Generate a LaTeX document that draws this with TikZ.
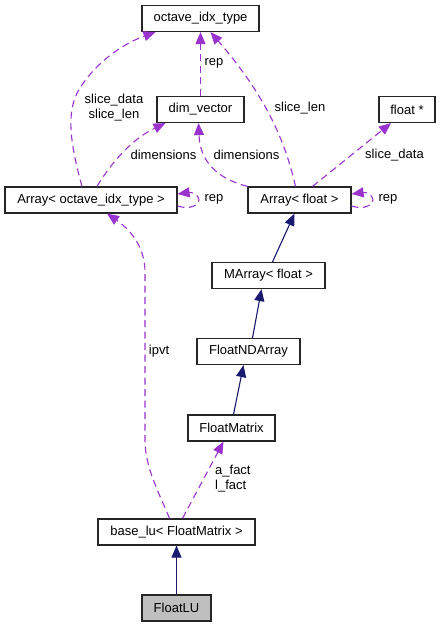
\documentclass[tikz,border=0pt]{standalone}
\usepackage{fontspec}
\setmainfont{Liberation Sans}
\usetikzlibrary{arrows.meta}
\definecolor{dep}{HTML}{9A32CD}
\definecolor{inh}{HTML}{191970}
\definecolor{leaf}{HTML}{BFBFBF}
\tikzset{
  box/.style={draw=black!85, line width=1.2pt, rectangle, minimum height=26pt, inner sep=0pt, anchor=center, font=\fontsize{13}{15}\selectfont},
  lbl/.style={inner sep=0pt, font=\fontsize{13}{15}\selectfont, align=center},
  deparrow/.style={draw=dep, line width=1.1pt, dash pattern=on 7pt off 4.5pt, -{Triangle[length=12pt,width=10pt,fill=dep]}},
  inharrow/.style={draw=inh, line width=1.1pt, -{Triangle[length=12pt,width=10pt,fill=inh]}},
}
\begin{document}
\begin{tikzpicture}[x=1pt,y=-1pt]
\useasboundingbox (0,0) rectangle (441,627);
% nodes
\node[box, minimum width=117pt] (oit) at (200.5,18.5) {octave\_idx\_type};
\node[box, minimum width=87pt] (dv) at (200.5,109.5) {dim\_vector};
\node[box, minimum width=56pt] (fp) at (407,109.5) {float *};
\node[box, minimum width=172pt] (ai) at (91,200) {Array< octave\_idx\_type >};
\node[box, minimum width=103pt] (af) at (299.5,200) {Array< float >};
\node[box, minimum width=113pt] (ma) at (268.5,275.5) {MArray< float >};
\node[box, minimum width=103pt] (fnd) at (248.5,351.5) {FloatNDArray};
\node[box, minimum width=87pt] (fm) at (231.5,428) {FloatMatrix};
\node[box, minimum width=157pt] (bl) at (176.5,532) {base\_lu< FloatMatrix >};
\node[box, minimum width=69pt, fill=leaf] (flu) at (176.5,608) {FloatLU};
% labels
\node[lbl] (l1) at (214,63) {rep};
\node[lbl] (l2) at (114,107.5) {slice\_data\\slice\_len};
\node[lbl] (l3) at (300,108) {slice\_len};
\node[lbl] (l4) at (163.5,155) {dimensions};
\node[lbl] (l5) at (246.5,155) {dimensions};
\node[lbl] (l6) at (394.5,155) {slice\_data};
\node[lbl] (l7) at (214,199) {rep};
\node[lbl] (l8) at (388,199) {rep};
\node[lbl] (l9) at (159,351) {ipvt};
\node[lbl, align=left, anchor=west] (l10) at (215,478.5) {a\_fact\\l\_fact};
% dependency edges
\draw[deparrow] (dv.north) -- (oit.south);
\draw[deparrow] ([xshift=-9pt]ai.north) .. controls (72,150) and (64,112) .. (80,88)
   .. controls (98,60) and (125,43) .. ([xshift=-45pt]oit.south);
\draw[deparrow] ([xshift=6pt]ai.north) .. controls (110,165) and (130,140) .. ([xshift=-35pt]dv.south);
\draw[deparrow] ([xshift=-52pt]af.north) .. controls (215,178) and (200,160) .. ([xshift=-2pt]dv.south);
\draw[deparrow] ([xshift=-4pt]af.north) .. controls (285,140) and (265,95) .. ([xshift=10pt]oit.south);
\draw[deparrow] ([xshift=13pt]af.north) -- ([xshift=-16pt]fp.south);
\draw[deparrow] ([yshift=-6pt]ai.east) .. controls (190,210) and (199,205) .. (199,200)
   .. controls (199,195) and (192,192) .. ([yshift=6pt]ai.east);
\draw[deparrow] ([yshift=-6pt]af.east) .. controls (364,210) and (373,205) .. (373,200)
   .. controls (373,195) and (366,192) .. ([yshift=6pt]af.east);
\draw[deparrow] ([xshift=-7pt]bl.north) .. controls (160,495) and (145,468) .. (145,440)
   -- (145,272) .. controls (145,245) and (128,228) .. ([xshift=16pt]ai.south);
\draw[deparrow] ([xshift=6pt]bl.north) -- ([xshift=-8pt]fm.south);
% inheritance edges
\draw[inharrow] ([xshift=4pt]ma.north) -- ([xshift=-5pt]af.south);
\draw[inharrow] ([xshift=4pt]fnd.north) -- ([xshift=-7pt]ma.south);
\draw[inharrow] ([xshift=2pt]fm.north) -- ([xshift=-5pt]fnd.south);
\draw[inharrow] (flu.north) -- (bl.south);
\end{tikzpicture}
\end{document}
